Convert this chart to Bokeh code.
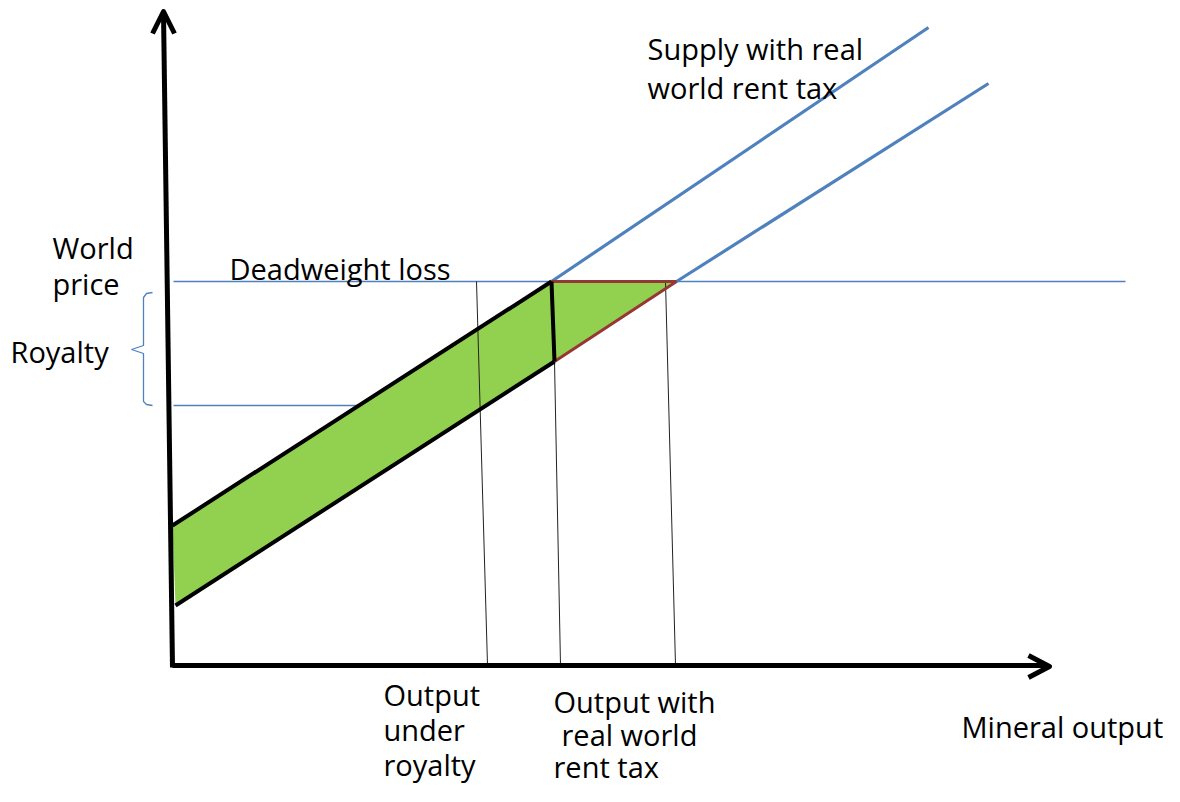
from bokeh.plotting import figure
from bokeh.models import Range1d
from bokeh.core.properties import value
from bokeh.embed import file_html
from bokeh.resources import INLINE

# ---- diagram data (drawing units: x to the right, y downward) ----
world_price_y = 281
royalty_price_y = 405
world_price_x = [173, 1125]
royalty_line_x = [173, 357]

# supply under royalty (black part, then blue continuation)
supply_royalty_x = [172, 551, 928]
supply_royalty_y = [525, 281, 27]
# supply with real world rent tax
supply_tax_x = [175, 554, 676, 988]
supply_tax_y = [605, 361, 281, 83]

# output markers (top x, bottom x, top y)
out_top_x = [476, 554, 665]
out_bot_x = [487, 560, 675]
out_top_y = [281, 361, 281]
axis_y = 665

# brace marking the royalty
brace_x = [152, 146, 143, 143, 131, 143, 143, 146, 152]
brace_y = [292, 293, 297, 345, 349, 353, 401, 404, 405]

label_text = ["Supply with real", "world rent tax", "World", "price", "Royalty",
              "Deadweight loss", "Output", "under", "royalty",
              "Output with", "real world", "rent tax", "Mineral output"]
label_x = [647, 647, 52, 52, 10, 229, 383, 383, 383, 553, 561, 553, 961]
label_baseline = [58, 97, 257, 293, 361, 278, 704, 739, 774, 711, 744, 776, 736]

FONT_PX = 29
BASELINE_SHIFT = 10  # svg text renders this far below the given alphabetic y
label_y = [b - BASELINE_SHIFT for b in label_baseline]

GREEN = "#92D050"
BLUE = "#4F81BD"
BROWN = "#953735"

p = figure(width=1164, height=786, output_backend="svg", toolbar_location=None,
           x_range=Range1d(0, 1164), y_range=Range1d(786, 0), min_border=0)
p.axis.visible = False
p.grid.visible = False
p.outline_line_color = None
p.background_fill_color = "white"
p.border_fill_color = "white"

# green band (royalty revenue area)
band_x = [supply_royalty_x[0], supply_royalty_x[1], supply_tax_x[1], supply_tax_x[0]]
band_y = [supply_royalty_y[0], supply_royalty_y[1], supply_tax_y[1], supply_tax_y[0]]
p.patch(band_x, band_y, fill_color=GREEN, line_color=None)
# deadweight loss triangle
tri_x = [supply_royalty_x[1], supply_tax_x[2], supply_tax_x[1]]
tri_y = [supply_royalty_y[1], supply_tax_y[2], supply_tax_y[1]]
p.patch(tri_x, tri_y, fill_color=GREEN, line_color=None)

# thin price lines
p.line(world_price_x, [world_price_y] * 2, line_color=BLUE, line_width=1.3)
p.line(royalty_line_x, [royalty_price_y] * 2, line_color=BLUE, line_width=1.3)
p.line(brace_x, brace_y, line_color=BLUE, line_width=1.3)

# output markers
for tx, bx, ty in zip(out_top_x, out_bot_x, out_top_y):
    p.line([tx, bx], [ty, axis_y], line_color="#222222", line_width=1)

# supply lines, blue parts
p.line(supply_royalty_x[1:], supply_royalty_y[1:], line_color=BLUE, line_width=3.2)
p.line(supply_tax_x[2:], supply_tax_y[2:], line_color=BLUE, line_width=3.2)

# deadweight loss edges
p.line([supply_royalty_x[1], supply_tax_x[2]], [world_price_y, world_price_y],
       line_color=BROWN, line_width=3)
p.line(supply_tax_x[1:3], supply_tax_y[1:3], line_color=BROWN, line_width=3)

# black band edges
p.line(supply_royalty_x[:2], supply_royalty_y[:2], line_color="black", line_width=4)
p.line(supply_tax_x[:2], supply_tax_y[:2], line_color="black", line_width=4)
p.line([supply_royalty_x[1], supply_tax_x[1]], [supply_royalty_y[1], supply_tax_y[1]],
       line_color="black", line_width=4)

# axes with arrows
p.line([172, 163], [667, 12], line_color="black", line_width=5)
p.line([152, 163, 174], [33, 11, 33], line_color="black", line_width=5, line_join="round")
p.line([172, 1047], [665, 665], line_color="black", line_width=5)
p.line([1028, 1049, 1028], [655, 666, 677], line_color="black", line_width=5, line_join="round")

p.text(label_x, label_y, text=label_text, text_font=value("Open Sans"),
       text_font_size=f"{FONT_PX}px", text_baseline="alphabetic", text_align="left",
       text_color="black")

open("out.html", "w").write(file_html(p, INLINE))
